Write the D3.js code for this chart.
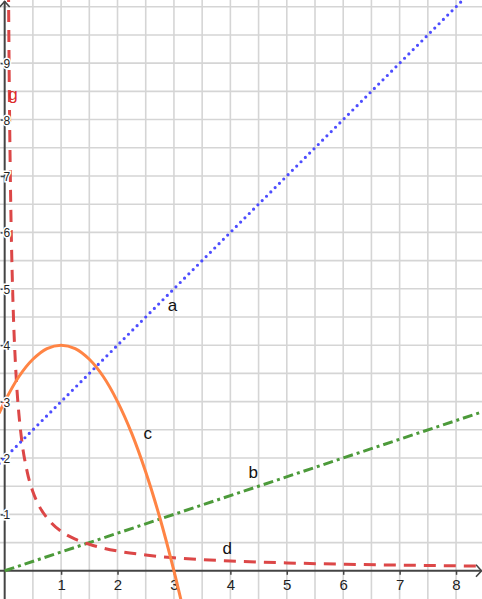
<!DOCTYPE html>
<html>
<head>
<meta charset="utf-8">
<script src="https://cdn.jsdelivr.net/npm/d3@7"></script>
<style>
  html, body { margin: 0; padding: 0; background: #fff; }
  svg { display: block; font-family: "Liberation Sans", Arial, sans-serif; }
</style>
</head>
<body>
<svg id="chart" width="482" height="599"></svg>
<script>
// ---- data ----
const xTickLabels = ["1", "2", "3", "4", "5", "6", "7", "8"];
const yTickLabels = ["1", "2", "3", "4", "5", "6", "7", "8", "9"];

// line a (blue dotted)
const aX = [-0.1, 2, 4, 6, 8.3];
const aY = [1.9, 4, 6, 8, 10.3];

// line b (green dash-dot)
const bX = [0, 3, 6, 8.5];
const bY = [0, 1, 2, 2.83];

// curve c (orange)
const cX = [-0.1, 0, 0.25, 0.5, 0.75, 1, 1.25, 1.5, 1.75, 2, 2.25, 2.5, 2.75, 3, 3.2];
const cY = [2.79, 3, 3.44, 3.75, 3.94, 4, 3.94, 3.75, 3.44, 3, 2.44, 1.75, 0.94, 0, -0.84];

// curve d / g (red dashed)
const dX = [0.068, 0.08, 0.1, 0.125, 0.15, 0.2, 0.25, 0.3, 0.4, 0.5, 0.6, 0.8, 1, 1.25, 1.5, 2, 2.5, 3, 4, 5, 6, 7, 8, 8.5];
const dY = [10.3, 8.75, 7, 5.6, 4.67, 3.5, 2.8, 2.33, 1.75, 1.4, 1.17, 0.88, 0.7, 0.56, 0.47, 0.35, 0.28, 0.23, 0.175, 0.14, 0.117, 0.1, 0.088, 0.082];

// curve names and where their labels sit (data coordinates)
const labelNames = ["a", "b", "c", "d", "g"];
const labelX = [2.89, 4.32, 2.46, 3.86, 0.063];
const labelY = [4.61, 1.64, 2.33, 0.30, 8.35];

// ---- drawing ----
const W = 482, H = 599;
const svg = d3.select("#chart");
const x = d3.scaleLinear().domain([-0.083, 8.46]).range([0, W]);
const y = d3.scaleLinear().domain([-0.5, 10.12]).range([H, 0]);

const gridColor = "#d5d5d5";
const axisColor = "#444";

// grid every 0.5
const gx = d3.range(0.5, 8.46, 0.5);
const gy = d3.range(0.5, 10.12, 0.5);
const grid = svg.append("g");
grid.selectAll("line.v").data(gx).join("line")
  .attr("x1", d => x(d)).attr("x2", d => x(d))
  .attr("y1", 0).attr("y2", H)
  .attr("stroke", gridColor).attr("stroke-width", 1.6);
grid.selectAll("line.h").data(gy).join("line")
  .attr("y1", d => y(d)).attr("y2", d => y(d))
  .attr("x1", 0).attr("x2", W)
  .attr("stroke", gridColor).attr("stroke-width", 1.6);

// axis lines with arrow heads
const x0 = x(0), y0 = y(0);
svg.append("line").attr("x1", 0).attr("x2", W - 0.5).attr("y1", y0).attr("y2", y0)
  .attr("stroke", axisColor).attr("stroke-width", 2);
svg.append("line").attr("x1", x0).attr("x2", x0).attr("y1", H).attr("y2", 1)
  .attr("stroke", axisColor).attr("stroke-width", 2);
svg.append("path")
  .attr("d", `M${W - 6},${y0 - 6}L${W - 0.5},${y0}L${W - 6},${y0 + 6}`)
  .attr("fill", "none").attr("stroke", axisColor).attr("stroke-width", 1.6);
svg.append("path")
  .attr("d", `M${x0 - 5},${7}L${x0},${1.5}L${x0 + 5},${7}`)
  .attr("fill", "none").attr("stroke", axisColor).attr("stroke-width", 1.6);

// x axis ticks and labels
const xAxis = svg.append("g").attr("transform", `translate(0,${y0})`)
  .call(d3.axisBottom(x).tickValues(xTickLabels.map(Number)).tickSize(4).tickFormat((d, i) => xTickLabels[i]));
xAxis.select(".domain").remove();
xAxis.selectAll(".tick line").attr("stroke", axisColor).attr("stroke-width", 1.5);
xAxis.selectAll(".tick text")
  .attr("y", 19).attr("dy", null)
  .attr("fill", "#222").attr("font-size", 15)
  .attr("font-family", "Liberation Sans, Arial, sans-serif");

// y axis ticks (labels drawn later on top)
const yAxis = svg.append("g").attr("transform", `translate(${x0},0)`)
  .call(d3.axisLeft(y).tickValues(yTickLabels.map(Number)).tickSize(0).tickFormat((d, i) => yTickLabels[i]));
yAxis.select(".domain").remove();
yAxis.selectAll(".tick line")
  .attr("x1", -4).attr("x2", 2)
  .attr("stroke", axisColor).attr("stroke-width", 1.5);
yAxis.selectAll(".tick text").remove();

// curves
const line = d3.line().x(d => x(d[0])).y(d => y(d[1]));
const clip = svg.append("g");

clip.append("path")
  .attr("d", line.curve(d3.curveLinear)(d3.zip(bX, bY)))
  .attr("fill", "none").attr("stroke", "#4c9a3a").attr("stroke-width", 3)
  .attr("stroke-dasharray", "10 4 3 4");

clip.append("path")
  .attr("d", line.curve(d3.curveMonotoneX)(d3.zip(dX, dY)))
  .attr("fill", "none").attr("stroke", "#dc4747").attr("stroke-width", 3)
  .attr("stroke-dasharray", "12 8");

clip.append("path")
  .attr("d", line.curve(d3.curveCatmullRom)(d3.zip(cX, cY)))
  .attr("fill", "none").attr("stroke", "#ff8444").attr("stroke-width", 3);

clip.append("path")
  .attr("d", line.curve(d3.curveLinear)(d3.zip(aX, aY)))
  .attr("fill", "none").attr("stroke", "#4d4dff").attr("stroke-width", 3.2)
  .attr("stroke-linecap", "round").attr("stroke-dasharray", "0 6.1");

// y tick labels with white halo
const yLab = svg.append("g");
yLab.selectAll("text").data(yTickLabels).join("text")
  .attr("x", x0 - 1.2)
  .attr("y", d => y(+d) + 5)
  .attr("font-size", 12)
  .attr("fill", "#222")
  .attr("stroke", "#fff").attr("stroke-width", 3).attr("paint-order", "stroke")
  .text(d => d);

// curve labels
const labelColors = { a: "#111", b: "#111", c: "#111", d: "#111", g: "#dd2b2b" };
svg.append("g").selectAll("text").data(labelNames).join("text")
  .attr("x", (d, i) => x(labelX[i]))
  .attr("y", (d, i) => y(labelY[i]))
  .attr("font-size", 17)
  .attr("fill", d => labelColors[d])
  .text(d => d);
</script>
</body>
</html>
